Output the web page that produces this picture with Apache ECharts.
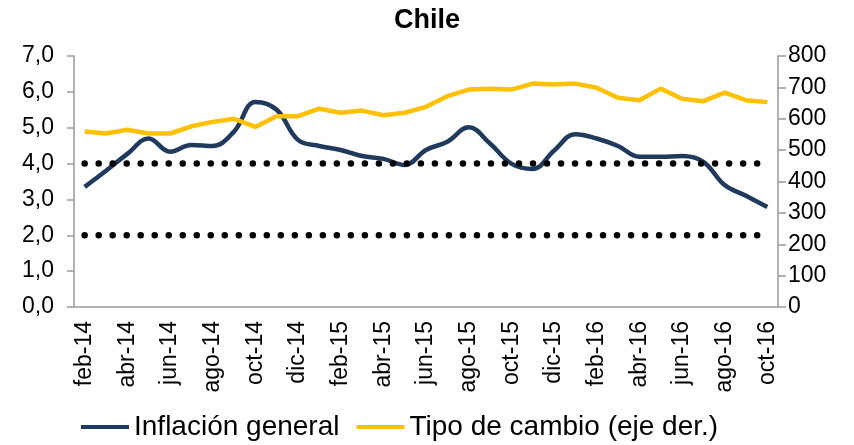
<!DOCTYPE html>
<html>
<head>
<meta charset="utf-8">
<script src="https://cdn.jsdelivr.net/npm/echarts@6/dist/echarts.min.js"></script>
<style>
	html, body { margin: 0; padding: 0; background: #fff; }
	#chile { width: 854px; height: 445px; }
</style>
</head>
<body>
<div id="chile"></div>
<script>
// meses feb-14 .. oct-16
var meses = ['feb-14','mar-14','abr-14','may-14','jun-14','jul-14','ago-14','sep-14','oct-14','nov-14','dic-14',
	'ene-15','feb-15','mar-15','abr-15','may-15','jun-15','jul-15','ago-15','sep-15','oct-15','nov-15','dic-15',
	'ene-16','feb-16','mar-16','abr-16','may-16','jun-16','jul-16','ago-16','sep-16','oct-16'];

// inflacion general (%), eje izq.
var inflacion = [3.35, 3.8, 4.27, 4.7, 4.33, 4.52, 4.49, 4.89, 5.72, 5.5, 4.66,
	4.49, 4.38, 4.21, 4.13, 3.96, 4.38, 4.61, 5.01, 4.56, 4.0, 3.85, 4.36,
	4.82, 4.7, 4.49, 4.19, 4.19, 4.21, 4.05, 3.4, 3.1, 2.79];

// tipo de cambio (CLP/USD), eje der.
var tipoCambio = [559, 553, 565, 553, 553, 576, 590, 600, 574, 608, 608,
	632, 619, 626, 611, 619, 638, 672, 693, 696, 693, 712, 709,
	712, 699, 667, 659, 696, 664, 656, 683, 659, 653];

// rango meta (lineas punteadas)
var metaInf = 2.0;
var metaSup = 4.0;

var fuente = 'Liberation Sans, Arial, sans-serif';

var chart = echarts.init(document.getElementById('chile'));

function constante(v) {
	return meses.map(function () { return v; });
}

var punteada = {
	color: '#000',
	width: 6.5,
	type: [0.01, 14],
	cap: 'round'
};

var option = {
	animation: false,
	backgroundColor: '#fff',
	title: {
		text: 'Chile',
		left: 'center',
		top: 2,
		textStyle: {
			fontFamily: fuente,
			fontSize: 27,
			fontWeight: 'bold',
			color: '#000'
		}
	},
	grid: {
		left: 74,
		right: 76,
		top: 56,
		bottom: 138
	},
	legend: {
		data: ['Inflación general', 'Tipo de cambio (eje der.)'],
		left: 76,
		top: 408,
		icon: 'rect',
		itemWidth: 48,
		itemHeight: 4,
		itemGap: 17,
		textStyle: {
			fontFamily: fuente,
			fontSize: 28,
			color: '#000'
		}
	},
	xAxis: {
		type: 'category',
		data: meses,
		boundaryGap: true,
		axisLine: { lineStyle: { color: '#999', width: 1.5 } },
		axisTick: { interval: 1, length: 8, lineStyle: { color: '#999', width: 1.5 } },
		axisLabel: {
			interval: 1,
			rotate: 90,
			margin: 14,
			fontFamily: fuente,
			fontSize: 23,
			color: '#000'
		},
		splitLine: { show: false }
	},
	yAxis: [
		{
			type: 'value',
			min: 0,
			max: 7,
			interval: 1,
			axisLine: { show: true, lineStyle: { color: '#999', width: 1.5 } },
			axisTick: { show: true, length: 7, lineStyle: { color: '#999', width: 1.5 } },
			axisLabel: {
				margin: 20,
				fontFamily: fuente,
				fontSize: 23,
				color: '#000',
				formatter: function (v) { return v.toFixed(1).replace('.', ','); }
			},
			splitLine: { show: false }
		},
		{
			type: 'value',
			min: 0,
			max: 800,
			interval: 100,
			position: 'right',
			axisLine: { show: true, lineStyle: { color: '#999', width: 1.5 } },
			axisTick: { show: true, length: 8, lineStyle: { color: '#999', width: 1.5 } },
			axisLabel: {
				margin: 10,
				fontFamily: fuente,
				fontSize: 23,
				color: '#000'
			},
			splitLine: { show: false }
		}
	],
	series: [
		{
			name: 'Inflación general',
			type: 'line',
			yAxisIndex: 0,
			data: inflacion,
			smooth: 0.4,
			symbol: 'none',
			itemStyle: { color: '#1F3A5C' },
			lineStyle: { color: '#1F3A5C', width: 4.5 }
		},
		{
			name: 'Tipo de cambio (eje der.)',
			type: 'line',
			yAxisIndex: 1,
			data: tipoCambio,
			symbol: 'none',
			itemStyle: { color: '#FFC000' },
			lineStyle: { color: '#FFC000', width: 4.5 }
		},
		{
			name: 'meta inf',
			type: 'line',
			yAxisIndex: 0,
			data: constante(metaInf),
			symbol: 'none',
			silent: true,
			lineStyle: punteada
		},
		{
			name: 'meta sup',
			type: 'line',
			yAxisIndex: 0,
			data: constante(metaSup),
			symbol: 'none',
			silent: true,
			lineStyle: punteada
		}
	]
};

chart.setOption(option);
</script>
</body>
</html>
